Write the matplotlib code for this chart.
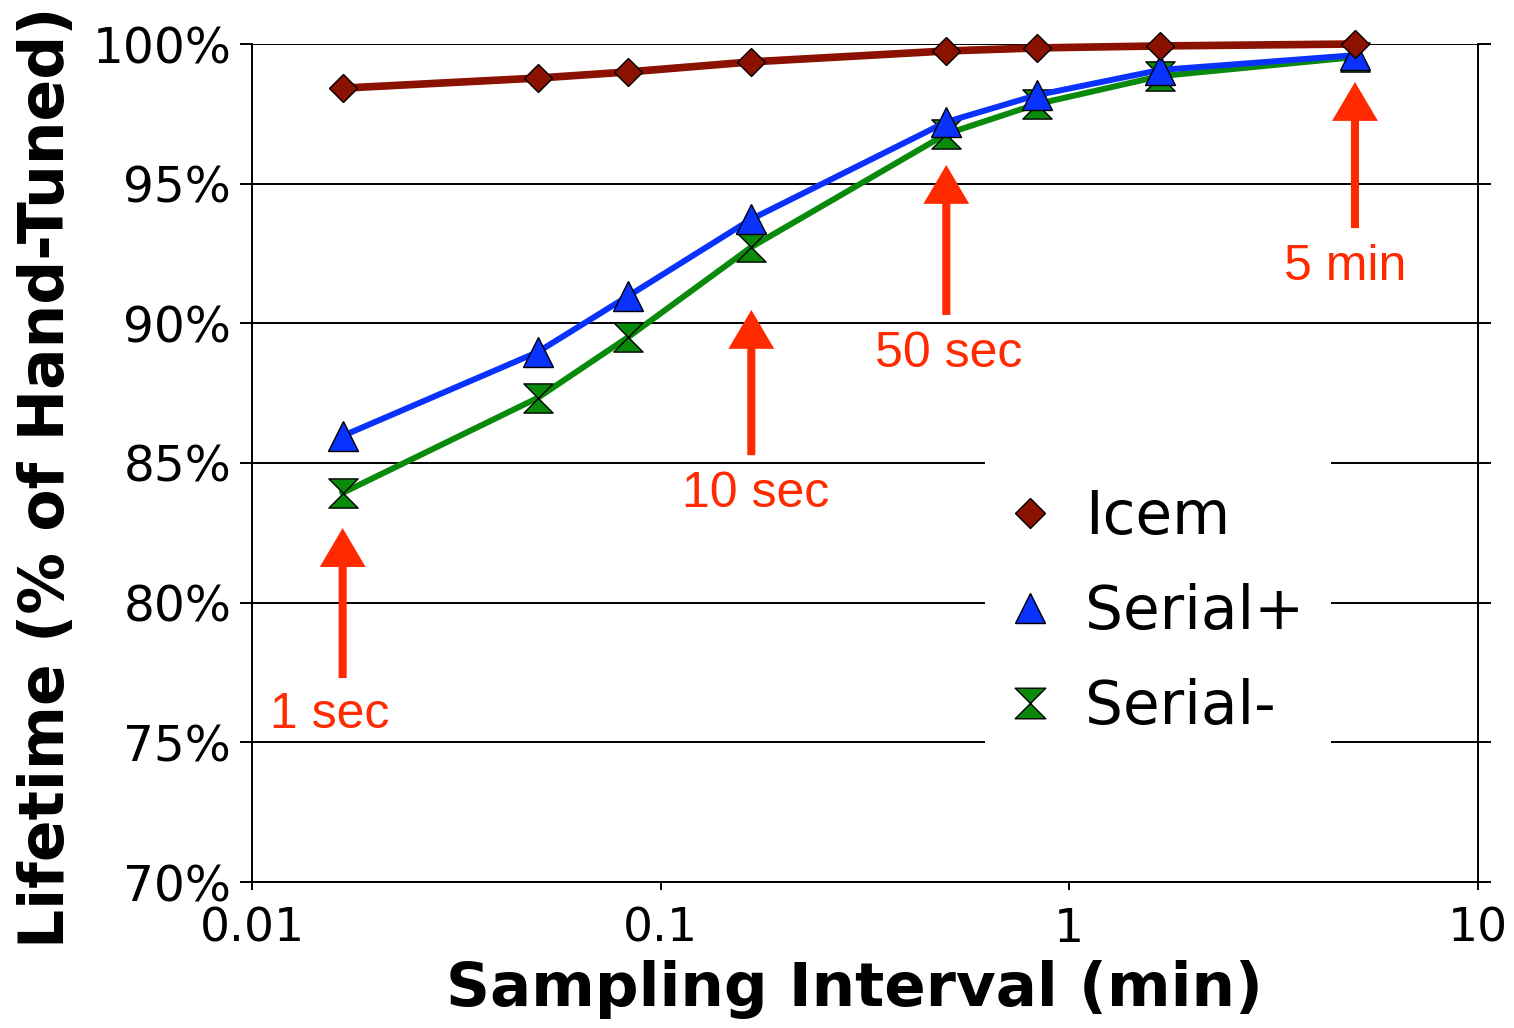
import matplotlib
matplotlib.use("Agg")
import matplotlib.pyplot as plt
from matplotlib.lines import Line2D
from matplotlib.path import Path
from matplotlib.ticker import FixedLocator, FuncFormatter

# ---- data ----
interval_min = [1/60, 3/60, 5/60, 10/60, 30/60, 50/60, 100/60, 300/60]
icem = [98.42, 98.78, 99.00, 99.36, 99.75, 99.86, 99.93, 100.0]
serial_plus = [85.97, 88.97, 90.98, 93.73, 97.21, 98.17, 99.07, 99.60]
serial_minus = [83.93, 87.33, 89.51, 92.73, 96.78, 97.85, 98.85, 99.53]

y_ticks = [70, 75, 80, 85, 90, 95, 100]
x_ticks = [0.01, 0.1, 1, 10]
x_tick_labels = ["0.01", "0.1", "1", "10"]

# annotations: label, arrow x, arrow tip y, arrow tail y, text x, text baseline y
annotations = [
    ("1 sec", 1/60, 82.67, 77.3, 0.0155, 75.51),
    ("10 sec", 10/60, 90.48, 85.28, 0.171, 83.42),
    ("50 sec", 30/60, 95.67, 90.30, 0.508, 88.44),
    ("5 min", 300/60, 98.64, 93.41, 4.72, 91.55),
]

# ---- style ----
RED = "#8b1100"
BLUE = "#0a32ff"
GREEN = "#0a8a0a"
ARROW = "#ff2a00"

hourglass = Path([(-1, 1), (1, 1), (-1, -1), (1, -1), (-1, 1)],
                 [Path.MOVETO, Path.LINETO, Path.LINETO, Path.LINETO, Path.CLOSEPOLY])

plt.rcParams["font.family"] = ["DejaVu Sans"]

fig = plt.figure(figsize=(15.14, 10.28), dpi=100)
ax = fig.add_axes([252/1514, 1-882/1028, (1478-252)/1514, (882-44)/1028])

ax.set_xscale("log")
ax.set_xlim(0.01, 10)
ax.set_ylim(70, 100)

ax.plot(interval_min, serial_minus, color=GREEN, lw=4.3, marker=hourglass, ms=21,
        mfc=GREEN, mec="black", mew=1.0, zorder=3, clip_on=False)
ax.plot(interval_min, serial_plus, color=BLUE, lw=4.3, marker="^", ms=21,
        mfc=BLUE, mec="black", mew=1.0, zorder=4, clip_on=False)
ax.plot(interval_min, icem, color=RED, lw=5.5, marker="D", ms=14.5,
        mfc=RED, mec="black", mew=1.0, zorder=5, clip_on=False)

# grid & axes
ax.yaxis.set_major_locator(FixedLocator(y_ticks))
ax.yaxis.set_major_formatter(FuncFormatter(lambda v, p: f"{int(v)}%"))
ax.xaxis.set_major_locator(FixedLocator(x_ticks))
ax.xaxis.set_major_formatter(FuncFormatter(lambda v, p: x_tick_labels[x_ticks.index(v)] if v in x_ticks else ""))
ax.xaxis.set_minor_locator(FixedLocator([]))
ax.grid(axis="y", color="black", lw=1.4, zorder=1)
ax.set_axisbelow(True)
ax.spines["top"].set_visible(False)
for s in ["left", "right", "bottom"]:
    ax.spines[s].set_linewidth(1.4)
ax.tick_params(axis="y", which="major", direction="out", length=9, width=1.4,
               left=True, right=True, labelsize=35, pad=6)
ax.tick_params(axis="x", which="major", direction="out", length=6, width=1.4,
               labelsize=34, pad=12)

ax.set_ylabel("Lifetime (% of Hand-Tuned)", fontsize=44.3, fontweight="bold")
ax.yaxis.set_label_coords(-0.143, 0.483)
ax.set_xlabel("Sampling Interval (min)", fontsize=44, fontweight="bold")
ax.xaxis.set_label_coords(0.491, -0.093)

# annotations
for label, ax_x, tip_y, tail_y, tx, ty in annotations:
    ax.annotate("", xy=(ax_x, tip_y), xytext=(ax_x, tail_y),
                arrowprops=dict(facecolor=ARROW, edgecolor="none", width=5.8,
                                headwidth=33, headlength=28, shrink=0),
                zorder=6)
    ax.text(tx, ty, label, color=ARROW, fontsize=36, ha="center", va="baseline",
            family=["Liberation Sans", "DejaVu Sans"], zorder=6)

# legend
handles = [
    Line2D([], [], ls="none", marker="D", ms=15, mfc=RED, mec="black", mew=1.0),
    Line2D([], [], ls="none", marker="^", ms=22, mfc=BLUE, mec="black", mew=1.0),
    Line2D([], [], ls="none", marker=hourglass, ms=22, mfc=GREEN, mec="black", mew=1.0),
]
leg = ax.legend(handles, ["Icem", "Serial+", "Serial-"], loc="upper left",
                bbox_to_anchor=((985-252)/1226, 1-(461-44)/838), fontsize=43,
                frameon=True, fancybox=False, framealpha=1, edgecolor="none",
                borderpad=0.45, borderaxespad=0, handlelength=0.6,
                handletextpad=0.63, labelspacing=0.6, numpoints=1)
leg.set_zorder(7)

fig.savefig("out.png", dpi=100)
